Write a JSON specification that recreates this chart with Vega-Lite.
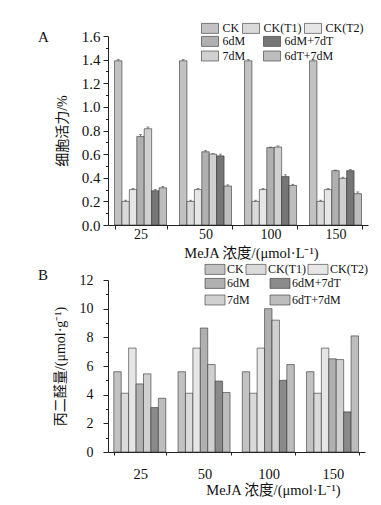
{
  "$schema": "https://vega.github.io/schema/vega-lite/v6.json",
  "background": "white",
  "padding": {"left": 38, "top": 22, "right": 5, "bottom": 5},
  "spacing": 3,
  "config": {
    "font": "Liberation Serif, Noto Sans CJK SC",
    "view": {"stroke": null},
    "axis": {"labelFont": "Liberation Serif, Noto Sans CJK SC", "titleFont": "Liberation Serif, Noto Sans CJK SC", "titleFontWeight": "normal", "domainColor": "#222", "tickColor": "#222", "labelColor": "#111", "titleColor": "#111", "grid": false, "domainWidth": 1, "tickWidth": 1},
    "legend": {"labelFont": "Liberation Serif", "labelFontSize": 12, "labelColor": "#111", "symbolStrokeColor": "#333", "symbolStrokeWidth": 0.6, "symbolSize": 100, "padding": 0, "rowPadding": 1, "orient": "none"},
    "title": {"font": "Liberation Serif", "fontWeight": "normal", "fontSize": 15, "color": "#111"}
  },
  "datasets": {
    "a": [
      {"g":"25","s":"CK","v":1.39,"hi":1.40},{"g":"25","s":"CK(T1)","v":0.20,"hi":0.21},{"g":"25","s":"CK(T2)","v":0.30,"hi":0.31},{"g":"25","s":"6dM","v":0.75,"hi":0.765},{"g":"25","s":"7dM","v":0.815,"hi":0.83},{"g":"25","s":"6dM+7dT","v":0.29,"hi":0.30},{"g":"25","s":"6dT+7dM","v":0.315,"hi":0.325},
      {"g":"50","s":"CK","v":1.39,"hi":1.40},{"g":"50","s":"CK(T1)","v":0.20,"hi":0.21},{"g":"50","s":"CK(T2)","v":0.30,"hi":0.31},{"g":"50","s":"6dM","v":0.62,"hi":0.63},{"g":"50","s":"7dM","v":0.60,"hi":0.605},{"g":"50","s":"6dM+7dT","v":0.585,"hi":0.60},{"g":"50","s":"6dT+7dM","v":0.33,"hi":0.34},
      {"g":"100","s":"CK","v":1.39,"hi":1.40},{"g":"100","s":"CK(T1)","v":0.20,"hi":0.21},{"g":"100","s":"CK(T2)","v":0.30,"hi":0.31},{"g":"100","s":"6dM","v":0.655,"hi":0.66},{"g":"100","s":"7dM","v":0.66,"hi":0.67},{"g":"100","s":"6dM+7dT","v":0.41,"hi":0.425},{"g":"100","s":"6dT+7dM","v":0.335,"hi":0.345},
      {"g":"150","s":"CK","v":1.39,"hi":1.40},{"g":"150","s":"CK(T1)","v":0.20,"hi":0.21},{"g":"150","s":"CK(T2)","v":0.30,"hi":0.31},{"g":"150","s":"6dM","v":0.46,"hi":0.465},{"g":"150","s":"7dM","v":0.395,"hi":0.405},{"g":"150","s":"6dM+7dT","v":0.46,"hi":0.47},{"g":"150","s":"6dT+7dM","v":0.265,"hi":0.28}
    ],
    "b": [
      {"g":"25","s":"CK","v":5.6},{"g":"25","s":"CK(T1)","v":4.1},{"g":"25","s":"CK(T2)","v":7.25},{"g":"25","s":"6dM","v":4.75},{"g":"25","s":"7dM","v":5.45},{"g":"25","s":"6dM+7dT","v":3.1},{"g":"25","s":"6dT+7dM","v":3.75},
      {"g":"50","s":"CK","v":5.6},{"g":"50","s":"CK(T1)","v":4.1},{"g":"50","s":"CK(T2)","v":7.25},{"g":"50","s":"6dM","v":8.65},{"g":"50","s":"7dM","v":6.1},{"g":"50","s":"6dM+7dT","v":4.95},{"g":"50","s":"6dT+7dM","v":4.15},
      {"g":"100","s":"CK","v":5.6},{"g":"100","s":"CK(T1)","v":4.1},{"g":"100","s":"CK(T2)","v":7.25},{"g":"100","s":"6dM","v":10.0},{"g":"100","s":"7dM","v":9.2},{"g":"100","s":"6dM+7dT","v":5.0},{"g":"100","s":"6dT+7dM","v":6.1},
      {"g":"150","s":"CK","v":5.6},{"g":"150","s":"CK(T1)","v":4.1},{"g":"150","s":"CK(T2)","v":7.25},{"g":"150","s":"6dM","v":6.5},{"g":"150","s":"7dM","v":6.45},{"g":"150","s":"6dM+7dT","v":2.8},{"g":"150","s":"6dT+7dM","v":8.1}
    ]
  },
  "vconcat": [
    {
      "width": 260, "height": 189,
      "title": {"text": "A", "anchor": "start", "frame": "group", "dx": -70, "dy": 27},
      "data": {"name": "a"},
      "encoding": {
        "x": {"field": "g", "type": "nominal", "sort": ["25","50","100","150"], "scale": {"paddingInner": 0.2, "paddingOuter": 0.1},
          "axis": {"title": "MeJA 浓度/(μmol·L⁻¹)", "labelAngle": 0, "labelFontSize": 14, "titleFontSize": 14.5, "tickBand": "extent", "tickSize": 4, "labelPadding": -2, "titlePadding": 5, "titleX": 143}},
        "xOffset": {"field": "s", "type": "nominal", "scale": {"domain": ["CK","CK(T1)","CK(T2)","6dM","7dM","6dM+7dT","6dT+7dM"], "paddingInner": 0, "paddingOuter": 0}}
      },
      "layer": [
        {
          "transform": [{"filter": "indexof(['CK','CK(T1)','CK(T2)'], datum.s) >= 0"}],
          "mark": {"type": "bar", "stroke": "#333", "strokeWidth": 0.6},
          "encoding": {
            "y": {"field": "v", "type": "quantitative", "title": "细胞活力/%", "scale": {"domain": [0, 1.6]},
              "axis": {"values": [0,0.1,0.2,0.3,0.4,0.5,0.6,0.7,0.8,0.9,1.0,1.1,1.2,1.3,1.4,1.5,1.6], "labelOverlap": false, "labelExpr": "round(datum.value*10)%2 ? '' : format(datum.value, '.1f')", "tickSize": {"condition": {"test": "round(datum.value*10)%2", "value": 2.5}, "value": 5}, "labelFontSize": 15, "titleFontSize": 14, "labelPadding": 3, "titlePadding": 12}},
            "fill": {"field": "s", "type": "nominal", "scale": {"domain": ["CK","CK(T1)","CK(T2)"], "range": ["#c2c2c2","#dadada","#e6e6e6"]},
              "legend": {"title": null, "direction": "horizontal", "legendX": 96, "legendY": -14, "columnPadding": 1, "symbolType": "M-1.7,-1H1.7V1H-1.7Z", "labelOffset": 6.5}}
          }
        },
        {
          "transform": [{"filter": "indexof(['CK','CK(T1)','CK(T2)'], datum.s) < 0"}],
          "mark": {"type": "bar", "stroke": "#333", "strokeWidth": 0.6},
          "encoding": {
            "y": {"field": "v", "type": "quantitative", "title": "细胞活力/%",
              "axis": {"values": [0,0.1,0.2,0.3,0.4,0.5,0.6,0.7,0.8,0.9,1.0,1.1,1.2,1.3,1.4,1.5,1.6], "labelOverlap": false, "labelExpr": "round(datum.value*10)%2 ? '' : format(datum.value, '.1f')", "tickSize": {"condition": {"test": "round(datum.value*10)%2", "value": 2.5}, "value": 5}, "labelFontSize": 15, "titleFontSize": 14, "labelPadding": 3, "titlePadding": 12}},
            "color": {"field": "s", "type": "nominal", "scale": {"domain": ["6dM","7dM","6dM+7dT","6dT+7dM"], "range": ["#b0b0b0","#d0d0d0","#767676","#bdbdbd"]},
              "legend": {"title": null, "columns": 2, "legendX": 96, "legendY": -1, "columnPadding": 16, "symbolType": "M-1.7,-1H1.7V1H-1.7Z", "labelOffset": 6.5}}
          }
        },
        {
          "mark": {"type": "rule", "strokeWidth": 0.6, "color": "#333"},
          "encoding": {"y": {"field": "v", "type": "quantitative", "title": "细胞活力/%",
              "axis": {"values": [0,0.1,0.2,0.3,0.4,0.5,0.6,0.7,0.8,0.9,1.0,1.1,1.2,1.3,1.4,1.5,1.6], "labelOverlap": false, "labelExpr": "round(datum.value*10)%2 ? '' : format(datum.value, '.1f')", "tickSize": {"condition": {"test": "round(datum.value*10)%2", "value": 2.5}, "value": 5}, "labelFontSize": 15, "titleFontSize": 14, "labelPadding": 3, "titlePadding": 12}}, "y2": {"field": "hi"}}
        },
        {
          "mark": {"type": "tick", "thickness": 0.7, "size": 3, "color": "#333"},
          "encoding": {"y": {"field": "hi", "type": "quantitative", "title": "细胞活力/%",
              "axis": {"values": [0,0.1,0.2,0.3,0.4,0.5,0.6,0.7,0.8,0.9,1.0,1.1,1.2,1.3,1.4,1.5,1.6], "labelOverlap": false, "labelExpr": "round(datum.value*10)%2 ? '' : format(datum.value, '.1f')", "tickSize": {"condition": {"test": "round(datum.value*10)%2", "value": 2.5}, "value": 5}, "labelFontSize": 15, "titleFontSize": 14, "labelPadding": 3, "titlePadding": 12}}}
        }
      ]
    },
    {
      "width": 257, "height": 172,
      "title": {"text": "B", "anchor": "start", "frame": "group", "dx": -70, "dy": 24},
      "data": {"name": "b"},
      "encoding": {
        "x": {"field": "g", "type": "nominal", "sort": ["25","50","100","150"], "scale": {"paddingInner": 0.18, "paddingOuter": 0.09},
          "axis": {"title": "MeJA 浓度/(μmol·L⁻¹)", "labelAngle": 0, "labelFontSize": 14.5, "titleFontSize": 14.5, "tickBand": "extent", "tickSize": 3, "labelPadding": 12, "titlePadding": 3, "titleX": 165}},
        "xOffset": {"field": "s", "type": "nominal", "scale": {"domain": ["CK","CK(T1)","CK(T2)","6dM","7dM","6dM+7dT","6dT+7dM"], "paddingInner": 0, "paddingOuter": 0}}
      },
      "layer": [
        {
          "transform": [{"filter": "indexof(['CK','CK(T1)','CK(T2)'], datum.s) >= 0"}],
          "mark": {"type": "bar", "stroke": "#333", "strokeWidth": 0.6},
          "encoding": {
            "y": {"field": "v", "type": "quantitative", "title": "丙二醛量/(μmol·g⁻¹)", "scale": {"domain": [0, 12]},
              "axis": {"values": [0,1,2,3,4,5,6,7,8,9,10,11,12], "labelOverlap": false, "labelExpr": "datum.value%2 ? '' : datum.value", "tickSize": {"condition": {"test": "datum.value%2", "value": 2.5}, "value": 5}, "labelFontSize": 14, "titleFontSize": 14, "labelPadding": 10, "titlePadding": 12}},
            "fill": {"field": "s", "type": "nominal", "scale": {"domain": ["CK","CK(T1)","CK(T2)"], "range": ["#c2c2c2","#dadada","#e6e6e6"]},
              "legend": {"title": null, "direction": "horizontal", "legendX": 101, "legendY": -17, "columnPadding": 0, "symbolType": "M-2,-1H2V1H-2Z", "labelOffset": 6}}
          }
        },
        {
          "transform": [{"filter": "indexof(['CK','CK(T1)','CK(T2)'], datum.s) < 0"}],
          "mark": {"type": "bar", "stroke": "#333", "strokeWidth": 0.6},
          "encoding": {
            "y": {"field": "v", "type": "quantitative", "title": "丙二醛量/(μmol·g⁻¹)",
              "axis": {"values": [0,1,2,3,4,5,6,7,8,9,10,11,12], "labelOverlap": false, "labelExpr": "datum.value%2 ? '' : datum.value", "tickSize": {"condition": {"test": "datum.value%2", "value": 2.5}, "value": 5}, "labelFontSize": 14, "titleFontSize": 14, "labelPadding": 10, "titlePadding": 12}},
            "color": {"field": "s", "type": "nominal", "scale": {"domain": ["6dM","7dM","6dM+7dT","6dT+7dM"], "range": ["#b0b0b0","#d0d0d0","#8a8a8a","#bdbdbd"]},
              "legend": {"title": null, "columns": 2, "legendX": 101, "legendY": -3, "rowPadding": 3, "columnPadding": 18, "symbolType": "M-2,-1H2V1H-2Z", "labelOffset": 6}}
          }
        }
      ]
    }
  ],
  "resolve": {"scale": {"fill": "independent", "color": "independent"}}
}
